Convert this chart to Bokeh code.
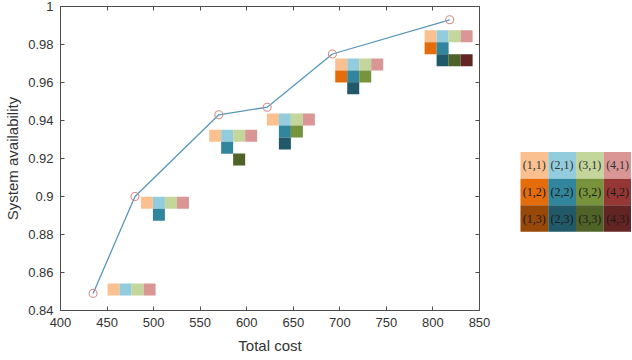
from bokeh.plotting import figure
from bokeh.models import (Range1d, FixedTicker, CustomJSTickFormatter, LinearAxis,
                          ColumnDataSource)
from bokeh.layouts import row
from bokeh.embed import file_html
from bokeh.resources import INLINE
from bokeh.core.properties import value

# ---- data ----
total_cost = [435, 480, 570, 622, 692, 818]
availability = [0.849, 0.900, 0.943, 0.947, 0.975, 0.993]

x_ticks = [400, 450, 500, 550, 600, 650, 700, 750, 800, 850]
y_ticks = [0.84, 0.86, 0.88, 0.90, 0.92, 0.94, 0.96, 0.98, 1.00]

# configuration glyph anchors (centre of cell (1,1) of each configuration)
config_x = [457.0, 492.8, 566.1, 628.1, 701.5, 797.5]
config_y = [0.8511, 0.8967, 0.9320, 0.9405, 0.9695, 0.9843]
# cells (column, row) shown for each configuration
config_cells = [
    [(1, 1), (2, 1), (3, 1), (4, 1)],
    [(1, 1), (2, 1), (3, 1), (4, 1), (2, 2)],
    [(1, 1), (2, 1), (3, 1), (4, 1), (2, 2), (3, 3)],
    [(1, 1), (2, 1), (3, 1), (4, 1), (2, 2), (3, 2), (2, 3)],
    [(1, 1), (2, 1), (3, 1), (4, 1), (1, 2), (2, 2), (3, 2), (2, 3)],
    [(1, 1), (2, 1), (3, 1), (4, 1), (1, 2), (2, 2), (2, 3), (3, 3), (4, 3)],
]

legend_cols = [1, 2, 3, 4]
legend_rows = [1, 2, 3]

# colour per (column, row)
cell_colors = {
    (1, 1): "#FAC090", (2, 1): "#93CDDD", (3, 1): "#C3D69B", (4, 1): "#D99694",
    (1, 2): "#E46C0A", (2, 2): "#31859C", (3, 2): "#77933C", (4, 2): "#953735",
    (1, 3): "#984807", (2, 3): "#215968", (3, 3): "#4F6228", (4, 3): "#632523",
}

# ---- main figure ----
W1, H = 519, 356
BL, BR, BT, BB = 60, 40, 6, 45
p = figure(width=W1, height=H, output_backend="svg", toolbar_location=None,
           x_range=Range1d(400, 850), y_range=Range1d(0.84, 1.0),
           min_border_left=BL, min_border_right=BR, min_border_top=BT,
           min_border_bottom=BB)
p.xgrid.visible = False
p.ygrid.visible = False
p.outline_line_color = "#555555"
p.background_fill_color = "white"
p.border_fill_color = "white"

fmt = CustomJSTickFormatter(code="return String(parseFloat(tick.toFixed(2)));")
blank = CustomJSTickFormatter(code="return '';")

AX = "#4d4d4d"
TXT = "#333333"
FONT = "Liberation Sans"

for ax in (p.xaxis[0], p.yaxis[0]):
    ax.major_tick_in = 4
    ax.major_tick_out = 0
    ax.minor_tick_line_color = None
    ax.axis_line_color = AX
    ax.major_tick_line_color = AX
    ax.major_label_text_font = FONT
    ax.major_label_text_font_size = "13px"
    ax.major_label_text_color = TXT
    ax.axis_label_text_font = FONT
    ax.axis_label_text_font_size = "15px"
    ax.axis_label_text_font_style = "normal"
    ax.axis_label_text_color = TXT
    ax.formatter = fmt

p.xaxis[0].ticker = FixedTicker(ticks=x_ticks)
p.yaxis[0].ticker = FixedTicker(ticks=y_ticks)
p.xaxis[0].axis_label = "Total cost"
p.yaxis[0].axis_label = "System availability"
p.xaxis[0].major_label_standoff = 7
p.xaxis[0].axis_label_standoff = 7
p.yaxis[0].major_label_standoff = 7
p.yaxis[0].axis_label_standoff = 4

for loc, tick in (("right", y_ticks), ("above", x_ticks)):
    a = LinearAxis(ticker=FixedTicker(ticks=tick), major_tick_in=4, major_tick_out=0,
                   minor_tick_line_color=None, axis_line_color=AX,
                   major_tick_line_color=AX, formatter=blank,
                   major_label_standoff=0, major_label_text_font_size="1px")
    p.add_layout(a, loc)

# configuration squares
CELL = 12  # px
px_per_x = (W1 - BL - BR) / (850 - 400)
px_per_y = (H - BT - BB) / (1.0 - 0.84)
dx = CELL / px_per_x
dy = CELL / px_per_y
sx, sy, sc = [], [], []
for gx, gy, cells in zip(config_x, config_y, config_cells):
    for (c, r) in cells:
        sx.append(gx + (c - 1) * dx)
        sy.append(gy - (r - 1) * dy)
        sc.append(cell_colors[(c, r)])
p.rect(x=sx, y=sy, width=CELL, height=CELL, width_units="screen",
       height_units="screen", fill_color=sc, line_color=None)

# line and markers
p.line(total_cost, availability, line_color="#5896bb", line_width=1.3)
p.scatter(total_cost, availability, marker="circle", size=8, fill_color=None,
          line_color="#d18e84", line_width=1.1)

# ---- legend figure (its frame is aligned with the main frame vertically) ----
W2 = 112
CW = 28.0
CH = 26.7
frame_top, frame_bot = BT, H - BB
top_px = 152
leg = figure(width=W2, height=H, output_backend="svg", toolbar_location=None,
             x_range=Range1d(-1 / CW, 4),
             y_range=Range1d((frame_bot - top_px) / CH, -(top_px - frame_top) / CH),
             min_border=0, x_axis_type=None, y_axis_type=None)
leg.xgrid.visible = False
leg.ygrid.visible = False
leg.outline_line_color = None
lx, ly, lc, lt, ltc = [], [], [], [], []
for r in legend_rows:
    for c in legend_cols:
        lx.append(c - 0.5)
        ly.append(r - 0.5)
        lc.append(cell_colors[(c, r)])
        lt.append(f"({c},{r})")
        ltc.append("#333333" if r == 1 else "#1a1a1a")
src = ColumnDataSource(dict(x=lx, y=ly, c=lc, t=lt, tc=ltc))
leg.rect(x="x", y="y", width=1, height=1, fill_color="c", line_color=None, source=src)
leg.text(x="x", y="y", text="t", text_color="tc", text_align="center",
         text_baseline="middle", text_font=value("Liberation Serif"),
         text_font_size="12px", source=src)

layout = row(p, leg)
open("out.html", "w").write(file_html(layout, INLINE))
